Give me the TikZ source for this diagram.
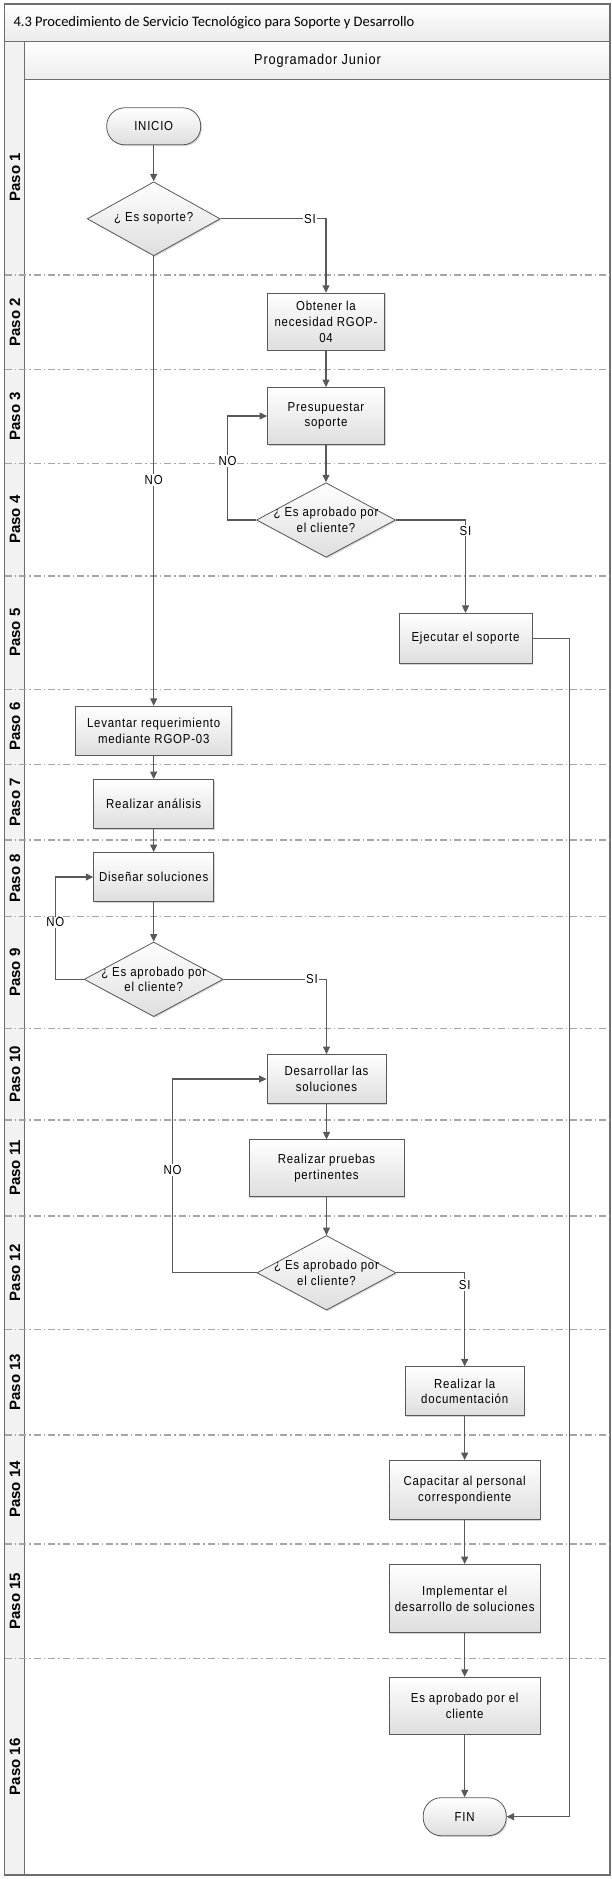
\documentclass[tikz,border=0pt]{standalone}
\usepackage{fontspec}
\setmainfont{Liberation Sans}
\newfontfamily\boxfont[FakeStretch=0.88,LetterSpace=6]{Liberation Sans}
\newfontfamily\titlefont{Carlito}
\usetikzlibrary{shapes.geometric,arrows.meta,shadows}

\definecolor{lineagris}{HTML}{595959}
\definecolor{marcogris}{HTML}{6E6E6E}
\definecolor{sepgris}{HTML}{A6A6A6}

\tikzset{
  banda/.style={draw=marcogris, line width=1.4pt},
  separador/.style={draw=sepgris, line width=1.1pt, dash pattern=on 7pt off 3pt on 1.5pt off 3pt},
  paso/.style={rotate=90, font=\bfseries\fontsize{15}{18}\selectfont},
  proceso/.style={rectangle, draw=lineagris, line width=0.8pt, top color=white, bottom color=black!13,
    align=center, inner sep=2pt, font=\boxfont\fontsize{13}{15.7}\selectfont,
    drop shadow={shadow xshift=1.2pt, shadow yshift=-1.2pt, opacity=.35}},
  terminal/.style={proceso, rounded corners=18pt, minimum height=37pt},
  decision/.style={diamond, draw=lineagris, line width=0.8pt, top color=white, bottom color=black!13,
    inner sep=0pt, minimum width=139pt, minimum height=74.6pt,
    drop shadow={shadow xshift=1.2pt, shadow yshift=-1.2pt, opacity=.35}},
  pregunta/.style={align=center, font=\boxfont\fontsize{13}{15.7}\selectfont},
  linea/.style={draw=lineagris, line width=1.1pt, -{Triangle[length=7.5pt,width=7pt]}},
  etiqueta/.style={fill=white, inner sep=1pt, font=\boxfont\fontsize{13}{15.7}\selectfont},
}

\begin{document}
\begin{tikzpicture}[x=1pt,y=-1pt]
  \useasboundingbox (0,0) rectangle (612,1879);

  % marco, titulo y carril
  \draw[banda, top color=white, bottom color=black!8] (4.7,4) rectangle (610,41.7);
  \node[anchor=base west, font=\titlefont\fontsize{14.5}{17}\selectfont] (titulo) at (10,27)
    {4.3 Procedimiento de Servicio Tecnológico para Soporte y Desarrollo};
  \draw[banda, fill=black!5] (4.7,41.7) rectangle (24.3,1875);
  \draw[banda, top color=white, bottom color=black!7] (24.3,41.7) rectangle (610,79.3);
  \node[font=\boxfont\fontsize{14.5}{17}\selectfont] (rol) at (317.5,60.5) {Programador Junior};
  \draw[banda] (24.3,79.3) rectangle (610,1875);

  % separadores de pasos
  \foreach \y in {275,369.3,463.3,576,689.3,764.3,840,916.7,1028.3,1120,1216,1329.3,1435,1544,1658.3}
    \draw[separador] (4.7,\y) -- (610,\y);

  \foreach \y/\n in {177.2/1,322.2/2,416.3/3,519.7/4,632.7/5,726.8/6,802.2/7,878.3/8,
                     972.5/9,1074.2/10,1168/11,1272.7/12,1382.2/13,1489.5/14,1601.2/15,1766.7/16}
    \node[paso] (paso\n) at (15,\y) {Paso \n};

  % nodos
  \node[terminal, minimum width=94pt] (inicio) at (153.7,126.3) {INICIO};
  \node[decision, minimum width=133pt, minimum height=74pt] (q1) at (153.7,218.8) {};
  \node[pregunta] (q1txt) at (q1) {¿ Es soporte?};
  \node[proceso, minimum width=117pt, minimum height=57pt] (obtener) at (326,321.7) {Obtener la\\necesidad RGOP-\\04};
  \node[proceso, minimum width=117pt, minimum height=57pt] (presup) at (326,416) {Presupuestar\\soporte};
  \node[decision] (q2) at (326,520) {};
  \node[pregunta] (q2txt) at (q2) {¿ Es aprobado por\\el cliente?};
  \node[proceso, minimum width=133pt, minimum height=50pt] (ejecutar) at (465.5,638.3) {Ejecutar el soporte};

  \node[proceso, minimum width=156pt, minimum height=49pt] (levantar) at (153.7,730.7) {Levantar requerimiento\\mediante RGOP-03};
  \node[proceso, minimum width=120pt, minimum height=49pt] (analisis) at (153.7,804) {Realizar análisis};
  \node[proceso, minimum width=120pt, minimum height=49pt] (disenar) at (153.7,877) {Diseñar soluciones};
  \node[decision] (q3) at (153.7,979.3) {};
  \node[pregunta] (q3txt) at (q3) {¿ Es aprobado por\\el cliente?};

  \node[proceso, minimum width=119pt, minimum height=49pt] (desarrollar) at (326.5,1079) {Desarrollar las\\soluciones};
  \node[proceso, minimum width=155pt, minimum height=57pt] (pruebas) at (326.5,1168.3) {Realizar pruebas\\pertinentes};
  \node[decision] (q4) at (326.5,1272.8) {};
  \node[pregunta] (q4txt) at (q4) {¿ Es aprobado por\\el cliente?};

  \node[proceso, minimum width=119pt, minimum height=49pt] (documentar) at (464.7,1391.3) {Realizar la\\documentación};
  \node[proceso, minimum width=151pt, minimum height=59pt] (capacitar) at (464.7,1490) {Capacitar al personal\\correspondiente};
  \node[proceso, minimum width=151pt, minimum height=68pt] (implementar) at (464.7,1598.5) {Implementar el\\desarrollo de soluciones};
  \node[proceso, minimum width=151pt, minimum height=57pt] (aprobado) at (464.7,1705.7) {Es aprobado por el\\cliente};
  \node[terminal, minimum width=83pt, minimum height=38pt] (fin) at (464.7,1816.7) {FIN};

  % puntos de retorno
  \coordinate (noA) at (227.5,520);
  \coordinate (noB) at (55.3,979.3);
  \coordinate (noC) at (172.5,1272.8);
  \coordinate (retorno) at (569.4,1816.7);

  % conectores
  \draw[linea] (inicio) -- (q1);
  \draw[linea] (q1.east) -| (obtener.north);
  \draw[linea] (obtener) -- (presup);
  \draw[linea] (presup) -- (q2);
  \draw[linea] (q2.west) -- (noA) |- (presup.west);
  \draw[linea] (q2.east) -| (ejecutar.north);
  \draw[linea] (ejecutar.east) -| (retorno) -- (fin.east);
  \draw[linea] (q1.south) -- (levantar.north);
  \draw[linea] (levantar) -- (analisis);
  \draw[linea] (analisis) -- (disenar);
  \draw[linea] (disenar) -- (q3);
  \draw[linea] (q3.west) -- (noB) |- (disenar.west);
  \draw[linea] (q3.east) -| (desarrollar.north);
  \draw[linea] (desarrollar) -- (pruebas);
  \draw[linea] (pruebas) -- (q4);
  \draw[linea] (q4.west) -- (noC) |- (desarrollar.west);
  \draw[linea] (q4.east) -| (documentar.north);
  \draw[linea] (documentar) -- (capacitar);
  \draw[linea] (capacitar) -- (implementar);
  \draw[linea] (implementar) -- (aprobado);
  \draw[linea] (aprobado) -- (fin);

  % etiquetas
  \node[etiqueta] (si1) at (310,218.8) {SI};
  \node[etiqueta] (no1) at (153.7,480) {NO};
  \node[etiqueta] (no2) at (227.5,461) {NO};
  \node[etiqueta] (si2) at (465.5,530.7) {SI};
  \node[etiqueta] (no3) at (55.3,922.3) {NO};
  \node[etiqueta] (si3) at (312,979.3) {SI};
  \node[etiqueta] (no4) at (172.5,1170) {NO};
  \node[etiqueta] (si4) at (464.7,1285) {SI};
\end{tikzpicture}
\end{document}
